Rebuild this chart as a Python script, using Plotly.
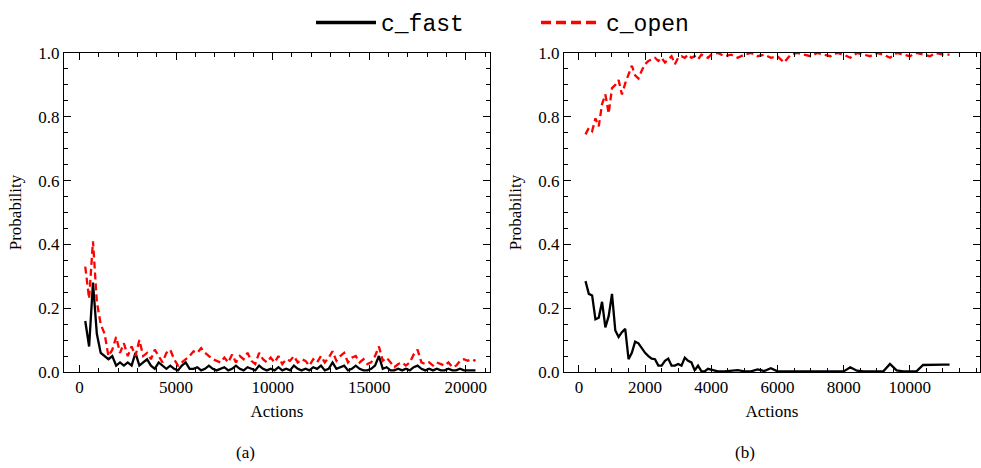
import plotly.graph_objects as go

# ---------------- data ----------------
# panel (a): actions grid starts at 300, every 200 actions
open_a = [0.33, 0.23, 0.41, 0.22, 0.15, 0.12, 0.05, 0.07, 0.11, 0.06,
          0.09, 0.05, 0.08, 0.05, 0.10, 0.05, 0.06, 0.04, 0.07, 0.05,
          0.03, 0.06, 0.07, 0.04, 0.02, 0.03, 0.04, 0.05, 0.065, 0.06,
          0.075, 0.06, 0.05, 0.04, 0.035, 0.03, 0.045, 0.03, 0.055, 0.03,
          0.05, 0.04, 0.06, 0.035, 0.025, 0.06, 0.04, 0.03, 0.045, 0.03,
          0.05, 0.025, 0.04, 0.035, 0.05, 0.03, 0.04, 0.035, 0.02, 0.04,
          0.03, 0.05, 0.03, 0.045, 0.065, 0.035, 0.05, 0.06, 0.03, 0.045,
          0.05, 0.03, 0.04, 0.025, 0.03, 0.05, 0.08, 0.035, 0.045, 0.03,
          0.015, 0.025, 0.03, 0.02, 0.03, 0.055, 0.07, 0.03, 0.025, 0.03,
          0.02, 0.03, 0.025, 0.02, 0.03, 0.015, 0.02, 0.035, 0.04, 0.035,
          0.04, 0.035]
fast_a = [0.16, 0.08, 0.28, 0.12, 0.06, 0.05, 0.04, 0.05, 0.02, 0.03,
          0.02, 0.03, 0.02, 0.06, 0.02, 0.03, 0.04, 0.02, 0.01, 0.03,
          0.02, 0.01, 0.02, 0.01, 0.005, 0.02, 0.03, 0.01, 0.01, 0.015,
          0.005, 0.01, 0.02, 0.01, 0.005, 0.01, 0.015, 0.005, 0.01, 0.02,
          0.01, 0.005, 0.015, 0.01, 0.005, 0.02, 0.01, 0.005, 0.01, 0.005,
          0.015, 0.005, 0.01, 0.005, 0.02, 0.01, 0.005, 0.01, 0.005, 0.015,
          0.01, 0.02, 0.005, 0.01, 0.03, 0.01, 0.015, 0.02, 0.005, 0.01,
          0.02, 0.01, 0.005, 0.005, 0.01, 0.02, 0.05, 0.01, 0.015, 0.005,
          0.005, 0.01, 0.005, 0.01, 0.005, 0.015, 0.02, 0.01, 0.005, 0.01,
          0.005, 0.01, 0.005, 0.005, 0.01, 0.005, 0.005, 0.01, 0.005, 0.005,
          0.005, 0.005]
x_a = [300 + 200 * i for i in range(len(open_a))]

# panel (b)
x_b = [200, 300, 400, 500, 600, 700, 800, 900, 1000, 1100,
       1200, 1300, 1400, 1500, 1600, 1700, 1800, 1900, 2000, 2100,
       2200, 2300, 2400, 2500, 2600, 2700, 2800, 2900, 3000, 3100,
       3200, 3300, 3400, 3500, 3600, 3700, 3800, 3900, 4000,
       4200, 4400, 4600, 4800, 5000, 5200, 5400, 5600, 5800, 6000,
       6200, 6400, 6600, 6800, 7000, 7200, 7400, 7600, 7800, 8000,
       8200, 8400, 8600, 8800, 9000, 9200, 9400, 9600, 9800, 10000,
       10200, 10400, 10600, 10800, 11000, 11200]
open_b = [0.745, 0.765, 0.755, 0.795, 0.77, 0.84, 0.87, 0.81, 0.89, 0.90,
          0.915, 0.87, 0.905, 0.93, 0.96, 0.93, 0.92, 0.945, 0.965, 0.975,
          0.98, 0.985, 0.975, 0.985, 0.97, 0.98, 0.99, 0.965, 0.985, 0.99,
          0.985, 0.995, 0.985, 0.99, 0.98, 0.995, 0.99, 0.985, 0.995,
          1.0, 0.99, 0.995, 0.985, 0.995, 1.0, 0.99, 0.995, 0.985, 0.99,
          0.97, 0.995, 1.0, 0.995, 0.99, 1.0, 0.995, 0.99, 1.0, 0.995,
          0.985, 1.0, 0.995, 0.99, 1.0, 0.995, 0.985, 1.0, 0.995, 0.99,
          1.0, 0.995, 0.99, 1.0, 0.995, 0.995]
fast_b = [0.285, 0.245, 0.24, 0.165, 0.17, 0.22, 0.14, 0.175, 0.245, 0.13,
          0.11, 0.125, 0.135, 0.04, 0.06, 0.095, 0.09, 0.075, 0.06, 0.05,
          0.042, 0.04, 0.02, 0.02, 0.035, 0.042, 0.02, 0.02, 0.025, 0.02,
          0.045, 0.035, 0.03, 0.005, 0.02, 0.003, 0.002, 0.01, 0.008,
          0.002, 0.002, 0.005, 0.006, 0.002, 0.002, 0.008, 0.003, 0.012, 0.002,
          0.002, 0.002, 0.002, 0.002, 0.003, 0.002, 0.002, 0.002, 0.002, 0.002,
          0.015, 0.004, 0.002, 0.002, 0.002, 0.002, 0.025, 0.005, 0.002, 0.002,
          0.002, 0.022, 0.023, 0.023, 0.023, 0.023]

y_ticks = [0.0, 0.2, 0.4, 0.6, 0.8, 1.0]
y_ticklabels = ["0.0", "0.2", "0.4", "0.6", "0.8", "1.0"]
xa_ticks = [0, 5000, 10000, 15000, 20000]
xa_ticklabels = ["0", "5000", "10000", "15000", "20000"]
xb_ticks = [0, 2000, 4000, 6000, 8000, 10000]
xb_ticklabels = ["0", "2000", "4000", "6000", "8000", "10000"]
series_names = ["c_fast", "c_open"]
panel_labels = ["(a)", "(b)"]

# ---------------- figure ----------------
W, H = 981, 468
ML, MR, MT, MB = 64, 1, 53, 96
PW, PH = W - ML - MR, H - MT - MB
SERIF = "Liberation Serif"
MONO = "Liberation Mono"

def fx(p):  # pixel -> paper x
    return (p - ML) / PW

def fy(p):  # pixel -> paper y
    return (H - MB - p) / PH

fig = go.Figure()

fast_line = dict(color="black", width=2.3)
open_line = dict(color="#ff0000", width=2.3, dash="7px,4px")

fig.add_trace(go.Scatter(x=x_a, y=fast_a, mode="lines", line=fast_line,
                         showlegend=False, xaxis="x", yaxis="y"))
fig.add_trace(go.Scatter(x=x_a, y=open_a, mode="lines", line=open_line,
                         showlegend=False, xaxis="x", yaxis="y"))
fig.add_trace(go.Scatter(x=x_b, y=fast_b, mode="lines", line=fast_line,
                         showlegend=False, xaxis="x2", yaxis="y2"))
fig.add_trace(go.Scatter(x=x_b, y=open_b, mode="lines", line=open_line,
                         showlegend=False, xaxis="x2", yaxis="y2"))
# legend entries
fig.add_trace(go.Scatter(x=[None], y=[None], mode="lines", name=series_names[0],
                         line=dict(color="black", width=3.5)))
fig.add_trace(go.Scatter(x=[None], y=[None], mode="lines", name=series_names[1],
                         line=dict(color="#ff0000", width=3.5, dash="10px,5px")))

common_axis = dict(
    showline=True, linecolor="black", linewidth=1, mirror="allticks",
    ticks="inside", ticklen=7, tickwidth=1, tickcolor="black",
    showgrid=False, zeroline=False, automargin=False,
    tickfont=dict(family=SERIF, size=17, color="black"),
)

def minor(d):
    return dict(ticks="inside", ticklen=4, tickwidth=1, tickcolor="black",
                dtick=d, showgrid=False)

title_font = dict(family=SERIF, size=17, color="black")

fig.update_layout(
    width=W, height=H,
    margin=dict(l=ML, r=MR, t=MT, b=MB),
    paper_bgcolor="white", plot_bgcolor="white",
    font=dict(family=SERIF, color="black"),
    xaxis=dict(domain=[0, fx(490)], range=[-800, 21250],
               tickvals=xa_ticks, ticktext=xa_ticklabels, anchor="y",
               minor=minor(1000),
               title=dict(text="Actions", font=title_font, standoff=8),
               **common_axis),
    yaxis=dict(domain=[0, 1], range=[0, 1],
               tickvals=y_ticks, ticktext=y_ticklabels, anchor="x",
               minor=minor(0.05),
               title=dict(text="Probability", font=title_font, standoff=12),
               **common_axis),
    xaxis2=dict(domain=[fx(564), 1], range=[-450, 12120],
                tickvals=xb_ticks, ticktext=xb_ticklabels, anchor="y2",
                minor=minor(500),
                title=dict(text="Actions", font=title_font, standoff=8),
                **common_axis),
    yaxis2=dict(domain=[0, 1], range=[0, 1],
                tickvals=y_ticks, ticktext=y_ticklabels, anchor="x2",
                minor=minor(0.05),
                title=dict(text="Probability", font=title_font, standoff=12),
                **common_axis),
    legend=dict(orientation="h", x=fx(536), xanchor="center", y=fy(1), yanchor="top",
                font=dict(family=MONO, size=23, color="black"),
                bgcolor="rgba(0,0,0,0)", entrywidth=150, entrywidthmode="pixels",
                itemwidth=60),
    annotations=[
        dict(text=panel_labels[0], x=fx(245), y=fy(452), xref="paper", yref="paper",
             xanchor="center", yanchor="middle", showarrow=False, font=title_font),
        dict(text=panel_labels[1], x=fx(745), y=fy(452), xref="paper", yref="paper",
             xanchor="center", yanchor="middle", showarrow=False, font=title_font),
    ],
)

fig.write_html("out.html", config={"displayModeBar": False},
               post_script="document.body.style.margin='0';")
